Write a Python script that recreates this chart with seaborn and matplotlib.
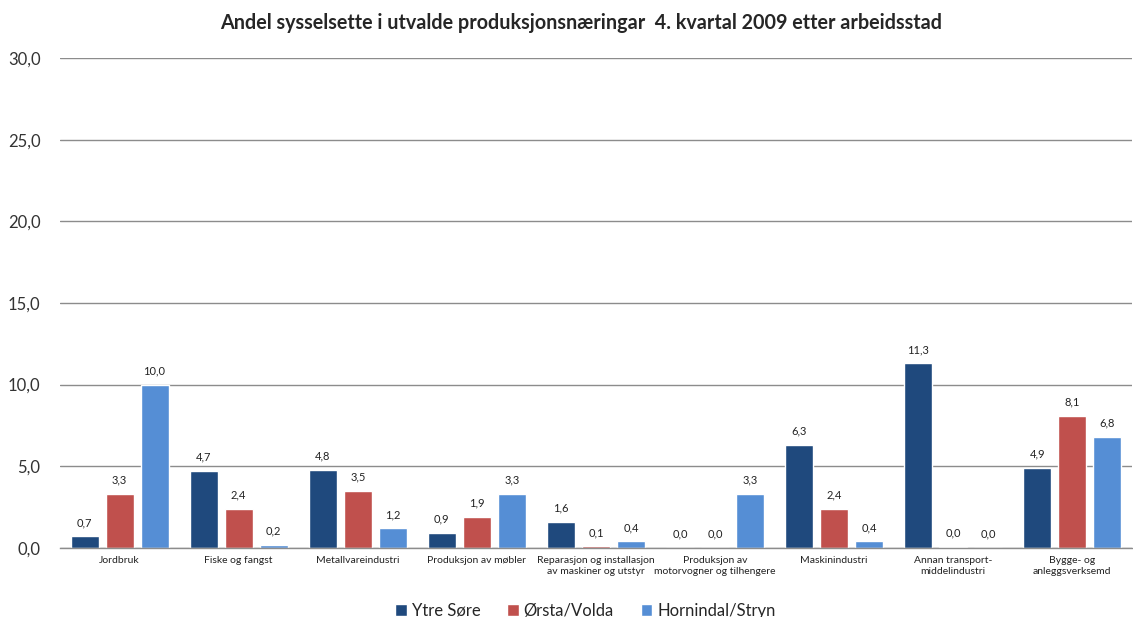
import matplotlib
matplotlib.use("Agg")
import matplotlib.pyplot as plt
import seaborn as sns
import pandas as pd
from matplotlib.ticker import FuncFormatter

categories = [
    "Jordbruk",
    "Fiske og fangst",
    "Metallvareindustri",
    "Produksjon av møbler",
    "Reparasjon og installasjon\nav maskiner og utstyr",
    "Produksjon av\nmotorvogner og tilhengere",
    "Maskinindustri",
    "Annan transport-\nmiddelindustri",
    "Bygge- og\nanleggsverksemd",
]
series = ["Ytre Søre", "Ørsta/Volda", "Hornindal/Stryn"]
ytre_sore = [0.7, 4.7, 4.8, 0.9, 1.6, 0.0, 6.3, 11.3, 4.9]
orsta_volda = [3.3, 2.4, 3.5, 1.9, 0.1, 0.0, 2.4, 0.04, 8.1]
hornindal_stryn = [10.0, 0.2, 1.2, 3.3, 0.4, 3.3, 0.4, 0.0, 6.8]
colors = ["#1F497D", "#C0504D", "#558ED5"]
title = "Andel sysselsette i utvalde produksjonsnæringar  4. kvartal 2009 etter arbeidsstad"

rows = []
for name, vals in zip(series, [ytre_sore, orsta_volda, hornindal_stryn]):
    for cat, v in zip(categories, vals):
        rows.append({"Næring": cat, "Region": name, "Andel": v})
df = pd.DataFrame(rows)

sns.set_theme(style="white")
plt.rcParams["font.family"] = ["Lato", "DejaVu Sans"]

fig = plt.figure(figsize=(11.33, 6.17), dpi=100)
ax = fig.add_axes([0.053, 0.112, 0.946, 0.794])

sns.barplot(data=df, x="Næring", y="Andel", hue="Region", palette=colors,
            width=0.88, gap=0.2, ax=ax, legend=True, saturation=1,
            order=categories, hue_order=series)

ax.set_ylim(0, 30)
ax.set_yticks([0, 5, 10, 15, 20, 25, 30])
ax.yaxis.set_major_formatter(FuncFormatter(lambda v, p: f"{v:.1f}".replace(".", ",")))
ax.set_xlim(-0.5, len(categories) - 0.5)
ax.grid(axis="y", color="#8c8c8c", linewidth=1)
ax.set_axisbelow(True)
for s in ["top", "right", "left"]:
    ax.spines[s].set_visible(False)
ax.spines["bottom"].set_color("#8c8c8c")
ax.spines["bottom"].set_linewidth(1)
ax.tick_params(axis="y", length=0, labelsize=12, pad=14, labelcolor="#333333")
ax.tick_params(axis="x", length=0, labelsize=7.5, pad=6, labelcolor="#222222")
ax.set_xlabel("")
ax.set_ylabel("")

for cont in ax.containers:
    labels = [f"{b.get_height():.1f}".replace(".", ",") for b in cont]
    ax.bar_label(cont, labels=labels, padding=6, fontsize=8, color="#222222")

handles, labs = ax.get_legend_handles_labels()
ax.legend(handles, labs, loc="lower center", bbox_to_anchor=(0.49, -0.175),
          ncol=3, frameon=False, fontsize=12, handlelength=0.7, handleheight=0.7,
          handletextpad=0.3, columnspacing=1.6)

fig.text(0.513, 0.962, title, ha="center", va="center", fontsize=14.2, fontweight="bold")

fig.savefig("out.png", dpi=100)
